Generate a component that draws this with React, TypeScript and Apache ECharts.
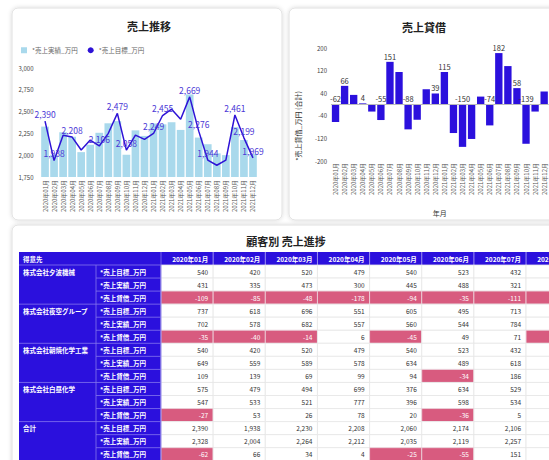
import React, { useEffect, useRef } from 'react';
import * as echarts from 'echarts';

const months = [
  '2020年01月', '2020年02月', '2020年03月', '2020年04月', '2020年05月', '2020年06月',
  '2020年07月', '2020年08月', '2020年09月', '2020年10月', '2020年11月', '2020年12月',
  '2021年01月', '2021年02月', '2021年03月', '2021年04月', '2021年05月', '2021年06月',
  '2021年07月', '2021年08月', '2021年09月', '2021年10月', '2021年11月', '2021年12月',
];
const targetTotal = [2390, 1938, 2230, 2208, 2060, 2174, 2106, 2251, 2479, 2058, 2231, 2182, 2249, 2455, 2528, 2412, 2669, 2276, 1944, 1885, 1943, 2461, 2199, 1969];
const actualTotal = [2328, 2004, 2264, 2212, 2035, 2119, 2257, 2366, 2391, 2004, 2285, 2221, 2364, 2354, 2378, 2290, 2697, 2202, 2126, 2021, 2001, 2322, 2174, 2015];
const balanceTotal = [-62, 66, 34, 4, -25, -55, 151, 115, -88, -54, 54, 39, 115, -101, -150, -122, 28, -74, 182, 136, 58, -139, -25, 46];

// months whose value labels are visible in the reference
const lineLabelMonths = ['2020年01月', '2020年02月', '2020年04月', '2020年07月', '2020年09月', '2020年10月', '2021年01月', '2021年02月', '2021年05月', '2021年06月', '2021年07月', '2021年10月', '2021年11月', '2021年12月'];
const barLabelMonths = ['2020年01月', '2020年02月', '2020年04月', '2020年06月', '2020年07月', '2020年09月', '2020年12月', '2021年01月', '2021年03月', '2021年06月', '2021年07月', '2021年09月', '2021年10月'];

const leftTicks = { min: 1750, max: 3000, interval: 250 };
const rightTicks = { min: -200, max: 200, interval: 80 };

// table
const tableMonths = months.slice(0, 8);
const customers = ['株式会社夕波機械', '株式会社夜空グループ', '株式会社朝焼化学工業', '株式会社白昼化学', '合計'];
const measures = ['*売上目標_万円', '*売上実績_万円', '*売上貸借_万円'];
const yunamiTarget = [540, 420, 520, 479, 540, 523, 432, 560];
const yunamiActual = [431, 335, 473, 300, 445, 488, 321, 492];
const yunamiBalance = [-109, -85, -48, -178, -94, -35, -111, -68];
const yozoraTarget = [737, 618, 696, 551, 605, 495, 713, 620];
const yozoraActual = [702, 578, 682, 557, 560, 544, 784, 598];
const yozoraBalance = [-35, -40, -14, 6, -45, 49, 71, -22];
const asayakeTarget = [540, 420, 520, 479, 540, 523, 432, 540];
const asayakeActual = [649, 559, 589, 578, 634, 489, 618, 676];
const asayakeBalance = [109, 139, 69, 99, 94, -34, 186, 136];
const hakuchuTarget = [575, 479, 494, 699, 376, 634, 529, 531];
const hakuchuActual = [547, 533, 521, 777, 396, 598, 534, 600];
const hakuchuBalance = [-27, 53, 26, 78, 20, -36, 5, 69];
const sumTarget = [2390, 1938, 2230, 2208, 2060, 2174, 2106, 2251];
const sumActual = [2328, 2004, 2264, 2212, 2035, 2119, 2257, 2366];
const sumBalance = [-62, 66, 34, 4, -25, -55, 151, 115];

const groups = [
  [yunamiTarget, yunamiActual, yunamiBalance],
  [yozoraTarget, yozoraActual, yozoraBalance],
  [asayakeTarget, asayakeActual, asayakeBalance],
  [hakuchuTarget, hakuchuActual, hakuchuBalance],
  [sumTarget, sumActual, sumBalance],
];

const FONT = '"Noto Sans CJK JP", "Noto Sans", sans-serif';
const BLUE = '#2b10dd';
const PINK = '#d85b7f';
const LAV = '#8576ee';
const W = 549;
const fmt = (v: number) => v.toLocaleString('en-US');

function buildGraphic() {
  const els: any[] = [];
  const card = (x: number, y: number, w: number, h: number) => ({
    type: 'rect', z: 0,
    shape: { x, y, width: w, height: h, r: 6 },
    style: { fill: '#fff', stroke: '#e0e0e0', lineWidth: 1, shadowBlur: 4, shadowColor: 'rgba(0,0,0,0.15)' },
  });
  els.push(card(12, 8, 270, 212));
  els.push(card(289, 8, 280, 212));
  els.push(card(12, 225, 560, 260));
  const title = (text: string, x: number, y: number) => ({
    type: 'text', z: 5, x, y,
    style: { text, align: 'center', verticalAlign: 'middle', fontSize: 11, fontWeight: 'bold', fontFamily: FONT, fill: '#222' },
  });
  els.push(title('売上推移', 149, 26));
  els.push(title('売上貸借', 424, 27));
  els.push(title('顧客別 売上進捗', 286, 241));

  els.push({
    type: 'text', z: 5, x: 298, y: 126, rotation: Math.PI / 2,
    style: { text: '*売上貸借_万円 (合計)', align: 'center', verticalAlign: 'middle', fontSize: 7, fontFamily: FONT, fill: '#333' },
  });

  const c0 = 19, c1 = 96, c2 = 161, cw = 52.15;
  const hy = 252, hh = 13, ry = 265, rh = 13.05;
  const nRows = groups.length * measures.length;
  const bottom = ry + nRows * rh;
  els.push({ type: 'rect', z: 1, shape: { x: c0, y: hy, width: c2 - c0, height: bottom - hy }, style: { fill: BLUE } });
  els.push({ type: 'rect', z: 1, shape: { x: c2, y: hy, width: cw * tableMonths.length, height: hh }, style: { fill: BLUE } });
  tableMonths.forEach((m, j) => {
    els.push({
      type: 'text', z: 3, x: c2 + (j + 1) * cw - 5, y: hy + hh / 2,
      style: { text: m, align: 'right', verticalAlign: 'middle', fontSize: 6.5, fontWeight: 'bold', fontFamily: FONT, fill: '#fff' },
    });
    if (j > 0) {
      els.push({ type: 'line', z: 3, shape: { x1: c2 + j * cw, y1: hy, x2: c2 + j * cw, y2: hy + hh }, style: { stroke: 'rgba(255,255,255,0.55)', lineWidth: 1 } });
    }
  });
  els.push({
    type: 'text', z: 3, x: c0 + 4, y: hy + hh / 2,
    style: { text: '得意先', align: 'left', verticalAlign: 'middle', fontSize: 6.5, fontWeight: 'bold', fontFamily: FONT, fill: '#fff' },
  });
  groups.forEach((g, gi) => {
    els.push({
      type: 'text', z: 3, x: c0 + 4, y: ry + gi * 3 * rh + rh / 2,
      style: { text: customers[gi], align: 'left', verticalAlign: 'middle', fontSize: 6.5, fontWeight: 'bold', fontFamily: FONT, fill: '#fff' },
    });
    g.forEach((vals, mi) => {
      const i = gi * 3 + mi;
      const y = ry + i * rh;
      els.push({
        type: 'text', z: 3, x: c1 + 4, y: y + rh / 2,
        style: { text: measures[mi], align: 'left', verticalAlign: 'middle', fontSize: 6.5, fontWeight: 'bold', fontFamily: FONT, fill: '#fff' },
      });
      vals.forEach((v, j) => {
        const x = c2 + j * cw;
        const neg = v < 0;
        els.push({ type: 'rect', z: 1, shape: { x, y, width: cw, height: rh }, style: { fill: neg ? PINK : '#fff', stroke: neg ? '#eed7de' : '#e6e6e6', lineWidth: 0.8 } });
        // value text only where it lies inside the visible page
        if (x + cw - 5 - 20 < W) {
          els.push({
            type: 'text', z: 3, x: x + cw - 5, y: y + rh / 2,
            style: { text: fmt(v), align: 'right', verticalAlign: 'middle', fontSize: 6.5, fontFamily: FONT, fill: neg ? '#fff' : '#333' },
          });
        }
      });
      els.push({ type: 'line', z: 2, shape: { x1: c1, y1: y, x2: c2, y2: y }, style: { stroke: LAV, lineWidth: 0.8 } });
      if (mi === 0) {
        els.push({ type: 'line', z: 2, shape: { x1: c0, y1: y, x2: c1, y2: y }, style: { stroke: LAV, lineWidth: 0.8 } });
      }
    });
  });
  els.push({ type: 'line', z: 2, shape: { x1: c1, y1: ry, x2: c1, y2: bottom }, style: { stroke: LAV, lineWidth: 0.8 } });
  els.push({ type: 'line', z: 2, shape: { x1: c2, y1: hy, x2: c2, y2: bottom }, style: { stroke: LAV, lineWidth: 0.8 } });
  return els;
}

export default function App() {
  const ref = useRef<HTMLDivElement>(null);
  useEffect(() => {
    if (!ref.current) return;
    const chart = echarts.init(ref.current, undefined, { renderer: 'svg' });
    const lineData = targetTotal.map((v, i) => ({ value: v, label: { show: lineLabelMonths.includes(months[i]) } }));
    const balData = balanceTotal.map((v, i) => ({ value: v, label: { show: barLabelMonths.includes(months[i]) } }));
    const option: any = {
      animation: false,
      backgroundColor: '#fff',
      textStyle: { fontFamily: FONT },
      graphic: { elements: buildGraphic() },
      legend: {
        left: 16, top: 42, itemWidth: 6, itemHeight: 6, itemGap: 10,
        textStyle: { fontSize: 6.5, color: '#666', fontFamily: FONT },
        data: [
          { name: '*売上実績_万円', icon: 'rect' },
          { name: '*売上目標_万円', icon: 'circle' },
        ],
      },
      grid: [
        { left: 40.5, top: 68, width: 217, height: 109 },
        { left: 331, top: 48, width: 217.7, height: 113 },
      ],
      xAxis: [
        {
          gridIndex: 0, type: 'category', data: months,
          axisLine: { show: false }, axisTick: { show: false },
          axisLabel: { rotate: 90, fontSize: 6, color: '#555', margin: 3, interval: 0, fontFamily: FONT },
        },
        {
          gridIndex: 1, type: 'category', data: months,
          axisLine: { show: false, onZero: false }, axisTick: { show: false },
          axisLabel: { rotate: 90, fontSize: 6, color: '#555', margin: 2, interval: 0, fontFamily: FONT },
          name: '年月', nameLocation: 'middle', nameGap: 48,
          nameTextStyle: { fontSize: 7, color: '#333', fontFamily: FONT },
        },
      ],
      yAxis: [
        {
          gridIndex: 0, type: 'value', ...leftTicks,
          splitLine: { show: false }, axisLine: { show: false }, axisTick: { show: false },
          axisLabel: { fontSize: 6, color: '#444', margin: 7, formatter: (v: number) => fmt(v), fontFamily: FONT },
        },
        {
          gridIndex: 1, type: 'value', ...rightTicks,
          splitLine: { show: false }, axisLine: { show: false }, axisTick: { show: false },
          axisLabel: { fontSize: 6, color: '#444', margin: 4, fontFamily: FONT },
        },
      ],
      series: [
        {
          name: '*売上実績_万円', type: 'bar', xAxisIndex: 0, yAxisIndex: 0,
          data: actualTotal, barCategoryGap: '15%',
          itemStyle: { color: '#a9d9ec' },
        },
        {
          name: '*売上目標_万円', type: 'line', xAxisIndex: 0, yAxisIndex: 0,
          data: lineData, symbol: 'circle', symbolSize: 0.1, showSymbol: true,
          itemStyle: { color: '#2e12d6' },
          lineStyle: { color: '#2e12d6', width: 1.5 },
          label: { position: 'top', distance: 3, fontSize: 8.5, color: '#4a36d6', formatter: (p: any) => fmt(p.value), fontFamily: FONT },
          z: 4,
        },
        {
          name: '売上貸借', type: 'bar', xAxisIndex: 1, yAxisIndex: 1,
          data: balData, barCategoryGap: '19%',
          itemStyle: { color: BLUE },
          label: { position: 'top', distance: 2, fontSize: 7.5, color: '#333', fontFamily: FONT },
          markLine: {
            silent: true, symbol: 'none', label: { show: false },
            lineStyle: { color: '#bbb', type: 'solid', width: 1 },
            data: [{ yAxis: 0 }],
          },
        },
      ],
    };
    chart.setOption(option);
    return () => chart.dispose();
  }, []);
  return <div ref={ref} style={{ position: 'absolute', left: 0, top: 0, width: 549, height: 460 }} />;
}
